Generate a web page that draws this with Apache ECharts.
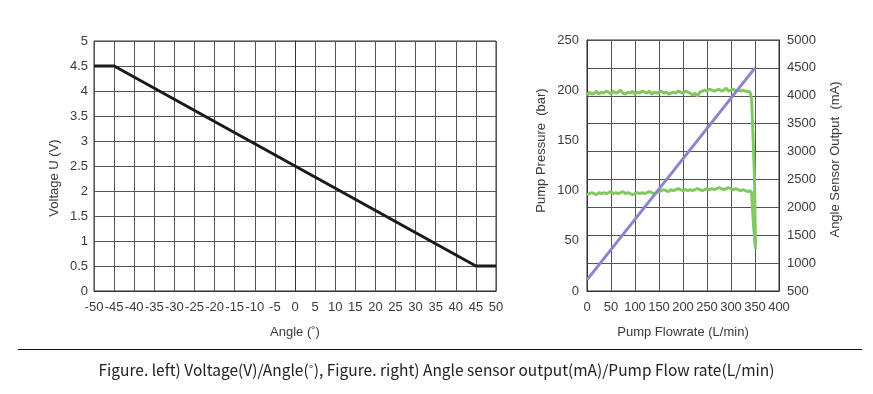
<!DOCTYPE html>
<html><head><meta charset="utf-8">
<script src="https://cdn.jsdelivr.net/npm/echarts@6/dist/echarts.min.js"></script>
<style>html,body{margin:0;padding:0;background:#fff}#c{width:873px;height:394px}</style>
</head><body><div id="c"></div>
<script>
// Left chart: Voltage vs Angle
var angle = [-50, -45, 45, 50];
var voltage = [4.5, 4.5, 0.5, 0.5];
// Right chart: Pump flowrate series (sampled every flowStep L/min)
var flowStep = 5;
var pressureHigh = [195,198,196,197,199,196,198,197,199,198,196,199,197,198,200,197,196,198,197,199,196,198,197,199,198,197,199,196,198,197,198,199,197,198,196,197,198,197,199,198,197,199,198,197,195,197,194,198,199,200,199,201,200,199,200,201,199,200,202,199,200,201,199,200,199,200,199,199];
var pressureLow = [96,97,98,97,96,98,97,98,97,98,99,97,98,97,98,99,97,98,97,96,97,98,97,98,97,98,99,98,97,98,99,100,101,100,99,101,100,101,102,101,100,101,100,101,100,101,102,101,100,101,102,101,102,101,102,103,102,101,102,103,102,101,102,101,100,101,100,99];
var highTailFlow = [340, 343, 345, 347, 349, 350, 351];
var highTailP = [198, 190, 165, 140, 110, 75, 45];
var lowTailFlow = [340, 343, 345, 347, 349, 350, 351];
var lowTailP = [100, 98, 80, 65, 55, 48, 42];
var sensorFlow = [0, 350];
var sensorOutput = [700, 4500];
var caption = 'Figure. left) Voltage(V)/Angle(˚), Figure. right) Angle sensor output(mA)/Pump Flow rate(L/min)';

function pairs(xs, ys){ return xs.map(function(x,i){return [x, ys[i]];}); }
function sampled(vals, tailX, tailY){
  var d = vals.map(function(v,i){return [i*flowStep, v];});
  return d.concat(pairs(tailX, tailY));
}

var txt = '#3a3a3a';
var font = 'Liberation Sans';
var fs = 13;
function nameStyle(pad){ return {color: txt, fontSize: fs, fontFamily: font, padding: pad || 0}; }
function lab(m){ return {color: txt, fontSize: fs, margin: m, fontFamily: font, formatter: function(v){ return String(v); }}; }
var chart = echarts.init(document.getElementById('c'));
chart.setOption({
  animation: false,
  textStyle: {fontFamily: font},
  grid: [
    {left: 94, top: 41, width: 402, height: 250, show: true, borderColor: '#333', borderWidth: 1, backgroundColor: 'transparent'},
    {left: 587, top: 40, width: 192, height: 251, show: true, borderColor: '#333', borderWidth: 1, backgroundColor: 'transparent'}
  ],
  xAxis: [
    {gridIndex: 0, type: 'value', min: -50, max: 50, interval: 5,
     name: 'Angle (˚)', nameLocation: 'middle', nameGap: 35, nameTextStyle: nameStyle(),
     axisLine: {show: true, lineStyle: {color: '#333'}}, axisTick: {show: false},
     axisLabel: lab(10),
     splitLine: {show: true, lineStyle: {color: '#555', width: 1}}},
    {gridIndex: 1, type: 'value', min: 0, max: 400, interval: 50,
     name: 'Pump Flowrate (L/min)', nameLocation: 'middle', nameGap: 35, nameTextStyle: nameStyle(),
     axisLine: {show: true, lineStyle: {color: '#333'}}, axisTick: {show: false},
     axisLabel: lab(10),
     splitLine: {show: true, lineStyle: {color: '#555', width: 1}}}
  ],
  yAxis: [
    {gridIndex: 0, type: 'value', min: 0, max: 5, interval: 0.5,
     name: 'Voltage U (V)', nameLocation: 'middle', nameGap: 33, nameTextStyle: nameStyle([0, 24, 0, 0]),
     axisLine: {show: true, lineStyle: {color: '#333'}}, axisTick: {show: false},
     axisLabel: lab(6),
     splitLine: {show: true, lineStyle: {color: '#555', width: 1}}},
    {gridIndex: 1, type: 'value', min: 0, max: 250, interval: 50, position: 'left',
     name: 'Pump Pressure  (bar)', nameLocation: 'middle', nameGap: 39, nameTextStyle: nameStyle([0, 0, 0, 30]),
     axisLine: {show: true, lineStyle: {color: '#333'}}, axisTick: {show: false},
     axisLabel: lab(8),
     splitLine: {show: false}},
    {gridIndex: 1, type: 'value', min: 500, max: 5000, interval: 500, position: 'right',
     name: 'Angle Sensor Output  (mA)', nameLocation: 'middle', nameGap: 50, nameTextStyle: nameStyle([0, 0, 0, 12]),
     axisLine: {show: true, lineStyle: {color: '#333'}}, axisTick: {show: false},
     axisLabel: lab(8),
     splitLine: {show: true, lineStyle: {color: '#555', width: 1}}}
  ],
  series: [
    {type: 'line', xAxisIndex: 0, yAxisIndex: 0, data: pairs(angle, voltage), symbol: 'none',
     lineStyle: {color: '#1a1a1a', width: 3}},
    {type: 'line', xAxisIndex: 1, yAxisIndex: 1, data: sampled(pressureHigh, highTailFlow, highTailP), symbol: 'none',
     lineStyle: {color: '#82c860', width: 3}},
    {type: 'line', xAxisIndex: 1, yAxisIndex: 1, data: sampled(pressureLow, lowTailFlow, lowTailP), symbol: 'none',
     lineStyle: {color: '#82c860', width: 3}},
    {type: 'line', xAxisIndex: 1, yAxisIndex: 2, data: pairs(sensorFlow, sensorOutput), symbol: 'none',
     lineStyle: {color: '#8b85cc', width: 3}}
  ],
  graphic: [
    {type: 'line', shape: {x1: 18, y1: 349.5, x2: 862, y2: 349.5}, style: {stroke: '#111', lineWidth: 1}},
    {type: 'text', left: 'center', top: 362, style: {text: caption, fill: '#222', fontSize: 15.5, fontFamily: 'Noto Sans CJK KR'}}
  ]
});
</script></body></html>
